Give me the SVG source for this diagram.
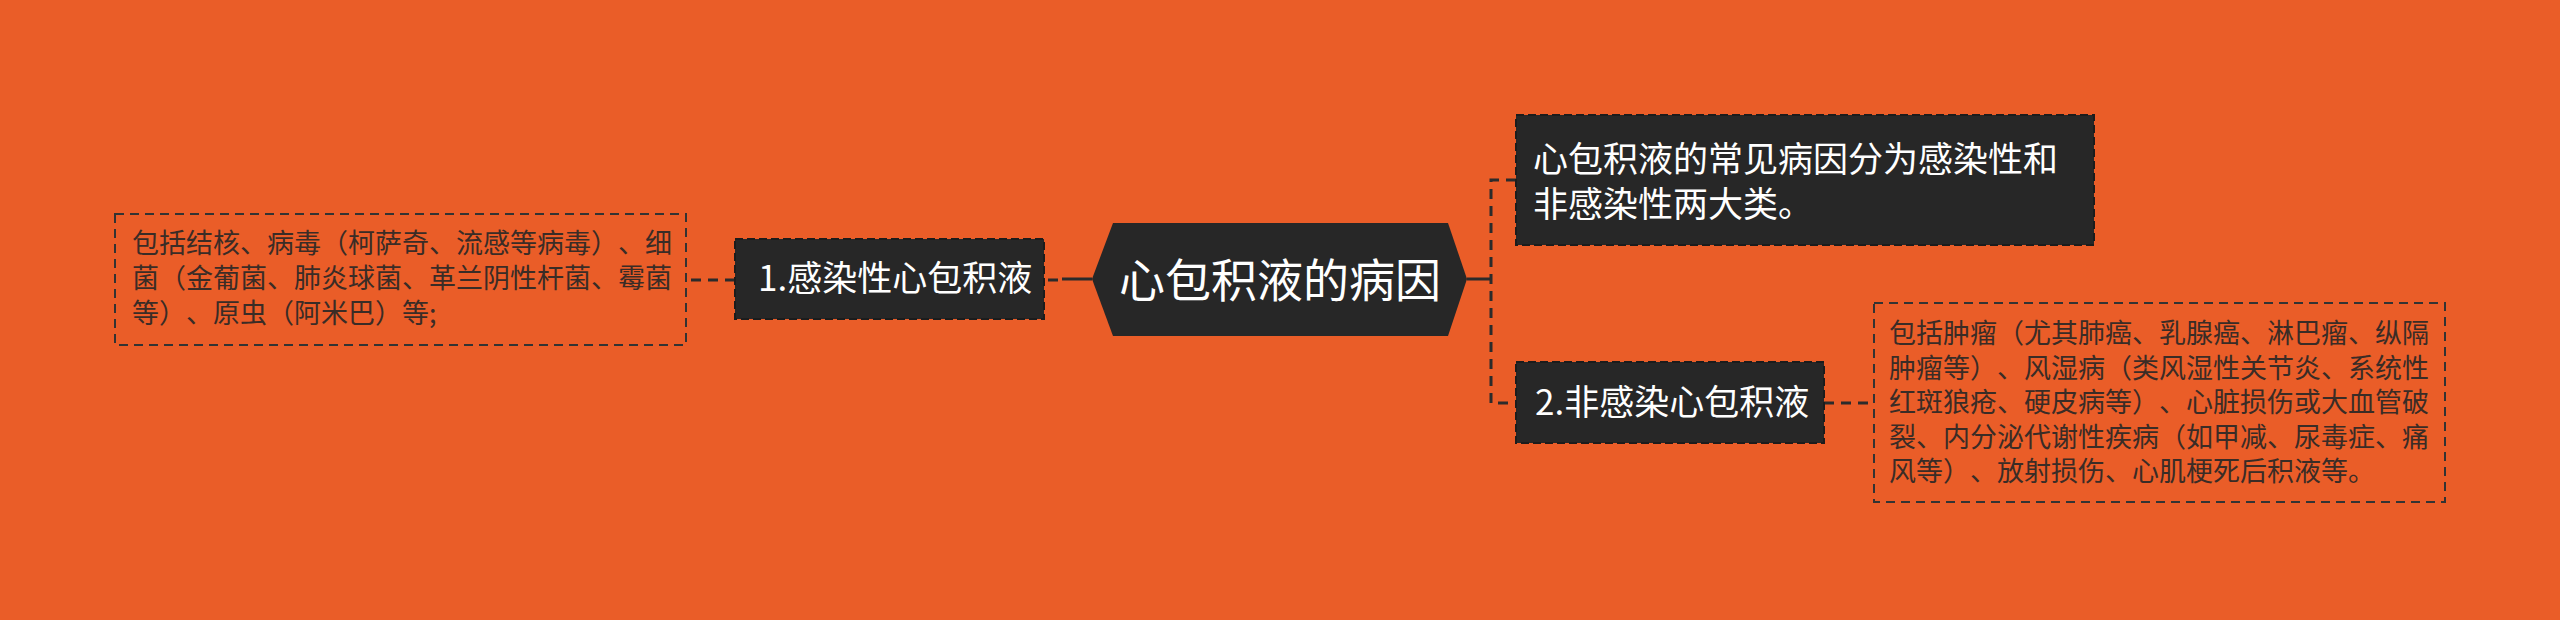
<svg xmlns="http://www.w3.org/2000/svg" width="2560" height="620" viewBox="0 0 2560 620">
<style>
.bg{fill:#EA5D28}
.dark{fill:#272727;stroke:#1c1c1c;stroke-width:2;stroke-dasharray:8 4}
.hex{fill:#272727}
.leaf{fill:none;stroke:#333;stroke-width:2;stroke-dasharray:9 6}
.conn{fill:none;stroke:#2b2b2b;stroke-width:3;stroke-dasharray:10 7}
.solid{fill:none;stroke:#2b2b2b;stroke-width:3}
text{text-spacing-trim:space-all;font-feature-settings:"chws" 0,"halt" 0,"palt" 0}
.wt{font-family:"Noto Sans CJK SC","Noto Sans",sans-serif;fill:#ffffff}
.lt{font-family:"Noto Sans CJK SC","Noto Sans",sans-serif;fill:#3a2c26;font-size:27px}
</style>
<rect class="bg" x="0" y="0" width="2560" height="620"/>
<g id="connectors">
<path class="solid" d="M1467 279 L1491 279"/>
<path class="conn" d="M1516 180 L1491 180 L1491 403 L1516 403"/>
<path class="conn" d="M1824 403 L1874 403"/>
<path class="solid" d="M1092 279 L1062 279"/>
<path class="conn" d="M1058 280 L1044 280"/>
<path class="conn" d="M735 280 L686 280"/>
</g>
<g id="center">
<polygon class="hex" points="1092,279 1113,223 1448,223 1467,279 1448,336 1113,336"/>
<text class="wt" x="1280" y="297" font-size="46" text-anchor="middle">心包积液的病因</text>
</g>
<g id="node-summary">
<rect class="dark" x="1516" y="115" width="578" height="130"/>
<text class="wt" x="1533" y="172" font-size="35">心包积液的常见病因分为感染性和</text>
<text class="wt" x="1533" y="217" font-size="35">非感染性两大类。</text>
</g>
<g id="node-noninfectious">
<rect class="dark" x="1516" y="362" width="308" height="81"/>
<text class="wt" x="1535" y="415" font-size="35">2.非感染心包积液</text>
</g>
<g id="leaf-noninfectious">
<rect class="leaf" x="1874" y="303" width="571" height="199"/>
<text class="lt"><tspan x="1889" y="343">包括肿瘤（尤其肺癌、乳腺癌、淋巴瘤、纵隔</tspan><tspan x="1889" y="377.5">肿瘤等）、风湿病（类风湿性关节炎、系统性</tspan><tspan x="1889" y="412">红斑狼疮、硬皮病等）、心脏损伤或大血管破</tspan><tspan x="1889" y="446.5">裂、内分泌代谢性疾病（如甲减、尿毒症、痛</tspan><tspan x="1889" y="481">风等）、放射损伤、心肌梗死后积液等。</tspan></text>
</g>
<g id="node-infectious">
<rect class="dark" x="735" y="239" width="309" height="80"/>
<text class="wt" x="758" y="291" font-size="35">1.感染性心包积液</text>
</g>
<g id="leaf-infectious">
<rect class="leaf" x="115" y="214" width="571" height="131"/>
<text class="lt"><tspan x="132" y="253">包括结核、病毒（柯萨奇、流感等病毒）、细</tspan><tspan x="132" y="288">菌（金葡菌、肺炎球菌、革兰阴性杆菌、霉菌</tspan><tspan x="132" y="323">等）、原虫（阿米巴）等;</tspan></text>
</g>
</svg>
